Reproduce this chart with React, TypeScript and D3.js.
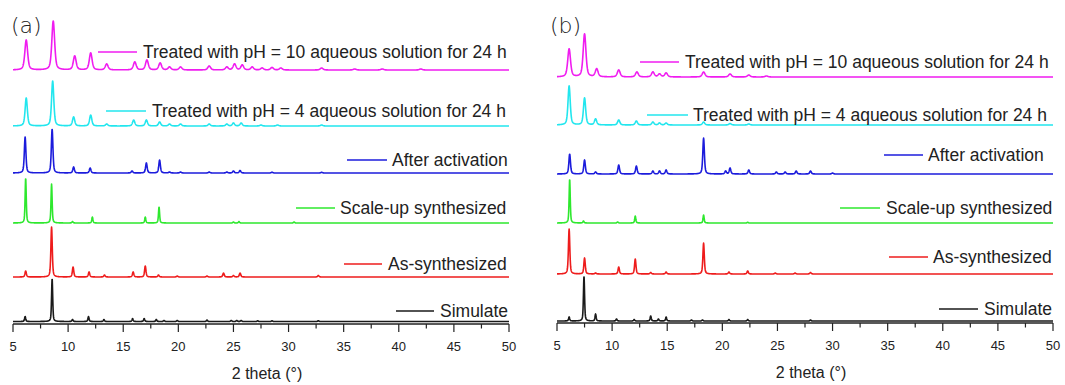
import React from 'react';
import * as d3 from 'd3';

// series order: bottom -> top
const SERIES_NAMES = [
  'Simulate',
  'As-synthesized',
  'Scale-up synthesized',
  'After activation',
  'Treated with pH = 4 aqueous solution for 24 h',
  'Treated with pH = 10 aqueous solution for 24 h',
];
const SERIES_COLORS = ['#1a1a1a', '#ee1c1c', '#2ee82e', '#1c1cdc', '#22e6ee', '#f01cf0'];
// peak FWHM (deg) per series
const PEAK_WIDTHS = [0.12, 0.15, 0.12, 0.17, 0.24, 0.3];

const X_TICKS = [5, 10, 15, 20, 25, 30, 35, 40, 45, 50];

// ---- panel (a) peaks: [2theta, height] ----
const A_SIMULATE: [number, number][] = [
  [6.1, 5], [8.55, 43], [10.4, 2], [11.85, 5], [13.25, 2], [15.85, 3], [16.9, 3], [18.0, 2],
  [18.7, 1], [19.9, 1], [22.6, 1.5], [24.8, 1], [25.3, 1], [25.7, 1], [27.2, 0.7], [28.5, 0.7], [32.7, 0.8],
];
const A_AS_SYNTH: [number, number][] = [
  [6.15, 6], [8.5, 50], [10.45, 10], [11.9, 5], [13.3, 2], [15.9, 5], [17.0, 11], [18.2, 2],
  [19.9, 1], [22.6, 1], [24.1, 4], [25.0, 1.5], [25.6, 4], [32.7, 1.5],
];
const A_SCALE_UP: [number, number][] = [
  [6.15, 45], [8.5, 39], [10.4, 1.5], [12.2, 6], [17.0, 6], [18.25, 16], [25.0, 1], [25.5, 1.5], [30.5, 1],
];
const A_ACTIVATED: [number, number][] = [
  [6.1, 36], [8.55, 44], [10.5, 6], [12.0, 5], [15.8, 2], [17.1, 10], [18.3, 13], [19.2, 1],
  [20.2, 1], [22.8, 1], [24.4, 1], [25.0, 2], [25.6, 2.5], [28.5, 0.8], [33, 0.7],
];
const A_PH4: [number, number][] = [
  [6.2, 28], [8.6, 45], [10.5, 9], [12.05, 11], [13.5, 2], [15.95, 6], [17.1, 6], [18.3, 4],
  [19.2, 2], [20.2, 2], [22.8, 2], [24.4, 2], [25.0, 3], [25.7, 3], [27.5, 1], [29, 1], [33, 1],
];
const A_PH10: [number, number][] = [
  [6.2, 30], [8.65, 49], [10.6, 14], [12.05, 17], [13.5, 6], [16.05, 8], [17.15, 10], [18.35, 7],
  [19.2, 3], [20.2, 3], [22.8, 4], [24.4, 3], [25.1, 6], [25.8, 5], [26.7, 3], [27.6, 2], [28.5, 2.5],
  [29.3, 2], [33, 2], [36, 1], [38.5, 1], [42, 1],
];

// ---- panel (b) peaks ----
const B_SIMULATE: [number, number][] = [
  [6.1, 4], [7.45, 45], [8.5, 7], [10.4, 2], [12.0, 1.5], [13.5, 5], [14.2, 2], [14.9, 4],
  [17.2, 1], [18.2, 1], [20.6, 1.5], [22.3, 1.5], [28, 1],
];
const B_AS_SYNTH: [number, number][] = [
  [6.1, 45], [7.5, 16], [8.5, 1], [10.6, 7], [12.1, 15], [13.5, 1.5], [14.9, 2], [18.3, 31],
  [20.6, 2], [22.3, 3], [24.8, 1], [26.6, 1], [28, 1.5],
];
const B_SCALE_UP: [number, number][] = [
  [6.15, 44], [7.4, 2], [10.5, 1], [12.1, 7], [18.3, 8], [22.3, 0.7],
];
const B_ACTIVATED: [number, number][] = [
  [6.15, 20], [7.5, 14], [8.5, 2], [10.6, 9], [12.2, 8], [13.7, 3], [14.3, 3], [14.9, 4],
  [18.3, 36], [20.3, 3], [20.7, 6], [22.4, 4], [24.9, 2], [25.7, 2], [26.7, 3], [28.0, 3], [30, 1],
];
const B_PH4: [number, number][] = [
  [6.1, 39], [7.5, 27], [8.5, 6], [10.6, 5], [12.2, 4], [13.7, 3], [14.3, 2], [14.9, 2],
  [18.3, 3], [20.7, 1.5], [22.4, 1],
];
const B_PH10: [number, number][] = [
  [6.1, 28], [7.5, 43], [8.6, 8], [10.6, 7], [12.25, 5], [13.7, 5], [14.3, 3], [14.9, 4],
  [18.3, 5], [20.7, 3], [22.4, 2], [24, 1],
];

type Legend = { lineX: [number, number]; textX: number; y: number };

type PanelDef = {
  label: string;
  labelX: number;
  x0: number;
  x1: number;
  axisY: number;
  offsets: number[];
  peaks: [number, number][][];
  legend: Legend[];
};

const PANELS: PanelDef[] = [
  {
    label: '(a)',
    labelX: 11,
    x0: 13,
    x1: 509,
    axisY: 324,
    offsets: [2.5, 47, 101, 151, 198, 254],
    peaks: [A_SIMULATE, A_AS_SYNTH, A_SCALE_UP, A_ACTIVATED, A_PH4, A_PH10],
    legend: [
      { lineX: [396, 434], textX: 440, y: 311 },
      { lineX: [344, 382], textX: 388, y: 264 },
      { lineX: [296, 335], textX: 340, y: 208 },
      { lineX: [347, 387], textX: 392, y: 160 },
      { lineX: [106, 146], textX: 152, y: 111 },
      { lineX: [98, 137], textX: 143, y: 52 },
    ],
  },
  {
    label: '(b)',
    labelX: 550,
    x0: 557,
    x1: 1053,
    axisY: 323,
    offsets: [2, 49, 100, 149, 198, 246],
    peaks: [B_SIMULATE, B_AS_SYNTH, B_SCALE_UP, B_ACTIVATED, B_PH4, B_PH10],
    legend: [
      { lineX: [939, 978], textX: 984, y: 309 },
      { lineX: [889, 928], textX: 933, y: 257 },
      { lineX: [840, 880], textX: 886, y: 208 },
      { lineX: [884, 923], textX: 928, y: 155 },
      { lineX: [647, 688], textX: 693, y: 115 },
      { lineX: [640, 679], textX: 685, y: 62 },
    ],
  },
];

// pseudo-Voigt profile built from the read peak list
const profile = (peaks: [number, number][], w: number) => {
  const xs = d3.range(5, 50.001, 0.02);
  return xs.map((x) => {
    let y = 0;
    for (const [c, h] of peaks) {
      const u = (x - c) / (w / 2);
      y += h * (0.5 / (1 + u * u) + 0.5 * Math.exp(-Math.LN2 * u * u));
    }
    return [x, y] as [number, number];
  });
};

const FONT = 'Liberation Sans, Arial, sans-serif';

const Panel: React.FC<{ p: PanelDef }> = ({ p }) => {
  const x = d3.scaleLinear().domain([5, 50]).range([p.x0, p.x1]);
  const y = d3.scaleLinear().domain([0, 320]).range([p.axisY, p.axisY - 320]);
  const minor = d3.range(7.5, 50, 5);

  return (
    <g>
      <text x={p.labelX} y={33} fontSize={22} fontFamily="DejaVu Sans, sans-serif" fontWeight={300} fill="#222">
        {p.label}
      </text>

      {p.peaks.map((pk, i) => {
        const line = d3
          .line<[number, number]>()
          .x((d) => x(d[0]))
          .y((d) => y(d[1] + p.offsets[i]));
        return (
          <path key={i} d={line(profile(pk, PEAK_WIDTHS[i])) || ''} fill="none"
            stroke={SERIES_COLORS[i]} strokeWidth={1.6} strokeLinejoin="round" />
        );
      })}

      {p.legend.map((l, i) => (
        <g key={i}>
          <line x1={l.lineX[0]} x2={l.lineX[1]} y1={l.y} y2={l.y} stroke={SERIES_COLORS[i]} strokeWidth={1.5} />
          <text x={l.textX} y={l.y + 6.3} fontSize={17.5} fontFamily={FONT} fill="#222">
            {SERIES_NAMES[i]}
          </text>
        </g>
      ))}

      {/* bottom axis */}
      <line x1={x(5)} x2={x(50)} y1={p.axisY} y2={p.axisY} stroke="#222" strokeWidth={1.4} />
      {X_TICKS.map((t) => (
        <g key={t}>
          <line x1={x(t)} x2={x(t)} y1={p.axisY} y2={p.axisY + 8} stroke="#222" strokeWidth={1.2} />
          <text x={x(t)} y={p.axisY + 27} textAnchor="middle" fontSize={13} fontFamily={FONT} fill="#222">
            {t}
          </text>
        </g>
      ))}
      {minor.map((t) => (
        <line key={t} x1={x(t)} x2={x(t)} y1={p.axisY} y2={p.axisY + 4.5} stroke="#222" strokeWidth={1.2} />
      ))}
      <text x={(p.x0 + p.x1) / 2 + 6} y={p.axisY + 55} textAnchor="middle" fontSize={16} fontFamily={FONT} fill="#222">
        2 theta (°)
      </text>
    </g>
  );
};

const App: React.FC = () => (
  <div style={{ position: 'absolute', left: 0, top: 0 }}>
    <svg width={1065} height={385} style={{ display: 'block', background: '#fff' }}>
      {PANELS.map((p) => (
        <Panel key={p.label} p={p} />
      ))}
    </svg>
  </div>
);

export default App;
